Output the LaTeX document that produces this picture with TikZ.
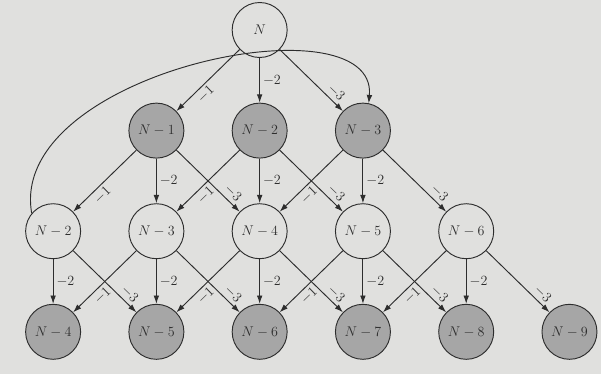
\documentclass[tikz,border=0pt]{standalone}
\usepackage{amsmath}
\usetikzlibrary{arrows.meta, positioning}
\definecolor{paper}{RGB}{224,224,222}
\definecolor{shade}{RGB}{166,166,166}
\definecolor{ink}{RGB}{45,45,45}
\tikzset{> = { Latex[length = 2.5mm, width = 1.7mm] }}

\begin{document}
\begin{tikzpicture}[->, line width = 0.8pt, draw = ink, text = ink, node distance = 1.34cm and 1.42cm, open/.style = { draw, circle, minimum size = 1.65cm, inner sep = 0pt, font = \fontsize{12.5}{15}\selectfont }, visited/.style = { open, fill = shade }, lbl/.style = { inner sep = 2.5pt, font = \fontsize{12.5}{15}\selectfont }]
	\path [use as bounding box, fill = paper] (-7.79, 0.9) rectangle (10.24, -10.32);

	\node [open] (n0) {\(N\)};

	\node [visited, below = of n0] (a2) {\(N-2\)};
	\node [visited, left = of a2] (a1) {\(N-1\)};
	\node [visited, right = of a2] (a3) {\(N-3\)};

	\node [open, below = of a2] (b4) {\(N-4\)};
	\node [open, left = of b4] (b3) {\(N-3\)};
	\node [open, left = of b3] (b2) {\(N-2\)};
	\node [open, right = of b4] (b5) {\(N-5\)};
	\node [open, right = of b5] (b6) {\(N-6\)};

	\node [visited, below = of b4] (c6) {\(N-6\)};
	\node [visited, left = of c6] (c5) {\(N-5\)};
	\node [visited, left = of c5] (c4) {\(N-4\)};
	\node [visited, right = of c6] (c7) {\(N-7\)};
	\node [visited, right = of c7] (c8) {\(N-8\)};
	\node [visited, right = of c8] (c9) {\(N-9\)};

	\draw (n0) -- node[lbl, sloped, below, pos = 0.63]{\(-1\)} (a1);
	\draw (n0) -- node[lbl, right]{\(-2\)} (a2);
	\draw (n0) -- node[lbl, sloped, above, pos = 0.8]{\(-3\)} (a3);

	\draw (a1) -- node[lbl, sloped, below, pos = 0.63]{\(-1\)} (b2);
	\draw (a1) -- node[lbl, right]{\(-2\)} (b3);
	\draw (a1) -- node[lbl, sloped, above, pos = 0.8]{\(-3\)} (b4);
	\draw (a2) -- node[lbl, sloped, below, pos = 0.63]{\(-1\)} (b3);
	\draw (a2) -- node[lbl, right]{\(-2\)} (b4);
	\draw (a2) -- node[lbl, sloped, above, pos = 0.8]{\(-3\)} (b5);
	\draw (a3) -- node[lbl, sloped, below, pos = 0.63]{\(-1\)} (b4);
	\draw (a3) -- node[lbl, right]{\(-2\)} (b5);
	\draw (a3) -- node[lbl, sloped, above, pos = 0.8]{\(-3\)} (b6);

	\draw (b2.140) .. controls +(-0.75, 4.25) and +(0.27, 3.2) .. (a3.78);
	\draw (b2) -- node[lbl, right]{\(-2\)} (c4);
	\draw (b2) -- node[lbl, sloped, above, pos = 0.8]{\(-3\)} (c5);
	\draw (b3) -- node[lbl, sloped, below, pos = 0.63]{\(-1\)} (c4);
	\draw (b3) -- node[lbl, right]{\(-2\)} (c5);
	\draw (b3) -- node[lbl, sloped, above, pos = 0.8]{\(-3\)} (c6);
	\draw (b4) -- node[lbl, sloped, below, pos = 0.63]{\(-1\)} (c5);
	\draw (b4) -- node[lbl, right]{\(-2\)} (c6);
	\draw (b4) -- node[lbl, sloped, above, pos = 0.8]{\(-3\)} (c7);
	\draw (b5) -- node[lbl, sloped, below, pos = 0.63]{\(-1\)} (c6);
	\draw (b5) -- node[lbl, right]{\(-2\)} (c7);
	\draw (b5) -- node[lbl, sloped, above, pos = 0.8]{\(-3\)} (c8);
	\draw (b6) -- node[lbl, sloped, below, pos = 0.63]{\(-1\)} (c7);
	\draw (b6) -- node[lbl, right]{\(-2\)} (c8);
	\draw (b6) -- node[lbl, sloped, above, pos = 0.8]{\(-3\)} (c9);
\end{tikzpicture}
\end{document}
